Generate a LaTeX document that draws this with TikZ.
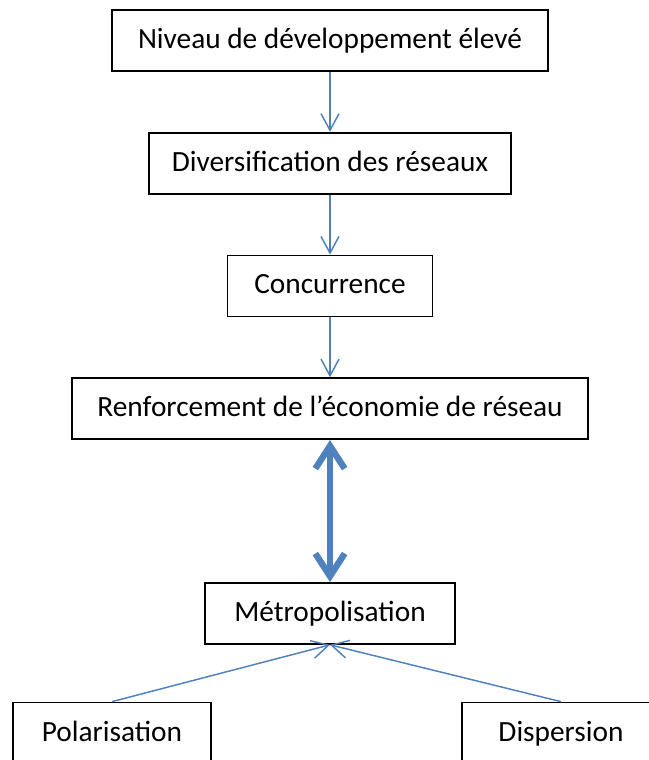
\documentclass[tikz,border=0pt]{standalone}
\usepackage{fontspec}
\setmainfont{Carlito}
\usetikzlibrary{arrows.meta, positioning}
\definecolor{linkblue}{RGB}{79,129,189}
\begin{document}
\begin{tikzpicture}[
    x=0.75pt, y=-0.75pt,
    node distance = 45pt,
    box/.style = {draw, line width=1.3pt, minimum height=45.75pt,
                  inner sep=0pt, text height=16pt, text depth=4pt,
                  font=\fontsize{22}{26}\selectfont},
    arr/.style = {-{Straight Barb[length=12.5pt, width=13.5pt]},
                  linkblue, line width=1.1pt},
    dbl/.style = {{Straight Barb[length=17pt, width=22pt]}-{Straight Barb[length=17pt, width=22pt]},
                  linkblue, line width=4.8pt},
  ]
  \useasboundingbox (0,0) rectangle (649,760);

  \node[box, minimum width=327pt] (niveau) at (330,40.5) {Niveau de développement élevé};
  \node[box, minimum width=271.5pt, below=of niveau] (divers) {Diversification des réseaux};
  \node[box, minimum width=153.75pt, below=of divers] (concur) {Concurrence};
  \node[box, minimum width=387pt, below=of concur] (renfo) {Renforcement de l’économie de réseau};
  \node[box, minimum width=187.5pt, below=106.5pt of renfo] (metro) {Métropolisation};

  % the two forces at the bottom
  \node[box, minimum width=148.5pt] (polar) at (112,733) {Polarisation};
  \node[box, minimum width=148.5pt] (disper) at (561,733) {Dispersion};

  \draw[arr] (niveau) -- (divers);
  \draw[arr] (divers) -- (concur);
  \draw[arr] (concur) -- (renfo);
  \draw[dbl] (renfo) -- (metro);
  \draw[arr] (polar.north) -- (metro.south);
  \draw[arr] (disper.north) -- (metro.south);

\end{tikzpicture}
\end{document}
